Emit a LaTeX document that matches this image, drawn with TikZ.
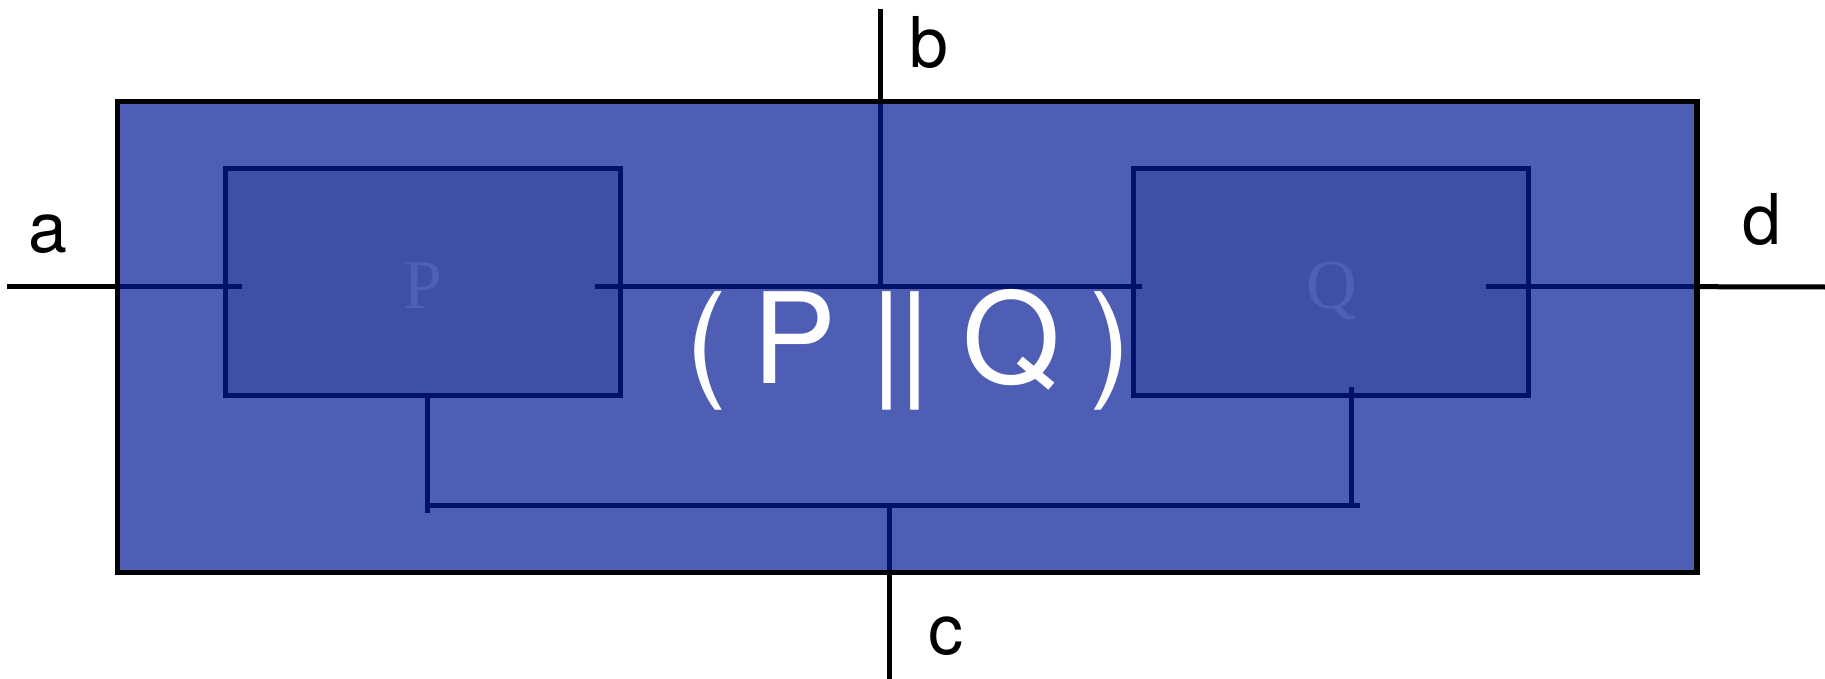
\documentclass[tikz,border=0pt]{standalone}
\usepackage{fontspec}
\newfontfamily\sansfam{TeX Gyre Heros}
\newfontfamily\seriffam{Liberation Serif}
\definecolor{outerfill}{RGB}{78,94,180}
\definecolor{innerfill}{RGB}{62,80,165}
\definecolor{navy}{RGB}{0,18,104}
\definecolor{faintc}{RGB}{78,95,182}
\begin{document}
\begin{tikzpicture}[x=1pt,y=-1pt,
  outerbox/.style={fill=outerfill, minimum width=1579.3pt, minimum height=471.2pt, inner sep=0pt, outer sep=0pt},
  subbox/.style={draw=navy, line width=5pt, fill=innerfill, minimum width=395pt, minimum height=226pt, inner sep=0pt, outer sep=0pt},
  wirein/.style={draw=navy, line width=5pt},
  wireout/.style={draw=black, line width=5pt},
  lbl/.style={font=\sansfam\fontsize{70}{70}\selectfont, anchor=base, inner sep=0pt},
  faint/.style={font=\seriffam\fontsize{70}{70}\selectfont, text=faintc, anchor=base, inner sep=0pt},
  bigtext/.style={font=\sansfam\fontsize{126}{126}\selectfont, text=white, anchor=base west, inner sep=0pt}
]
\useasboundingbox (0,0) rectangle (1825,679);
% outer system box (fill)
\node[outerbox] (sys) at (907.35,336.9) {};
% sub-boxes
\node[subbox] (P) at (423.2,282) {};
\node[subbox] (Q) at (1331.3,282) {};
\node[faint] (Ptxt) at ([yshift=-26pt]P.center) {P};
\node[faint] (Qtxt) at ([yshift=-26pt]Q.center) {Q};
% coordinates
\coordinate (aEnd) at (7,286.7);
\coordinate (aEdge) at (117.7,286.7);
\coordinate (aIn) at (242,286.7);
\coordinate (pOut) at (595,286.7);
\coordinate (qIn) at (1141.7,286.7);
\coordinate (bJoin) at (880.5,286.7);
\coordinate (bEdge) at (880.5,101.3);
\coordinate (bEnd) at (880.5,9.3);
\coordinate (qOut) at (1486,286.7);
\coordinate (dEdge) at (1697,286.7);
\coordinate (dEnd) at (1825,287);
\coordinate (pBot) at (427.3,395);
\coordinate (pBelow) at (427.3,513);
\coordinate (busL) at (427.3,505);
\coordinate (busR) at (1360,505);
\coordinate (qTop) at (1351.7,387.3);
\coordinate (qBus) at (1351.7,505);
\coordinate (cJoin) at (889.5,505);
\coordinate (cEdge) at (889.5,572.5);
\coordinate (cEnd) at (889.5,679);
% wires
\draw[wireout] (aEnd) -- (aEdge);
\draw[wirein] (aEdge) -- (aIn);
\draw[wirein] (pOut) -- (qIn);
\draw[wireout] (bEnd) -- (bEdge);
\draw[wirein] (bEdge) -- (bJoin);
\draw[wirein] (qOut) -- (dEdge);
\draw[wireout] (dEdge) -- (dEnd);
\draw[wirein] (pBot) -- (pBelow);
\draw[wirein] (busL) -- (busR);
\draw[wirein] (qTop) -- (qBus);
\draw[wirein] (cJoin) -- (cEdge);
\draw[wireout] (cEdge) -- (cEnd);
% outer border on top
\draw[black, line width=5.5pt] (sys.north west) rectangle (sys.south east);
% central text
\node[bigtext] (pq) at (685.2,383.3) {(\hspace{25.3pt}P\hspace{33.7pt}|\hspace{-4.8pt}|\hspace{31.5pt}Q\hspace{28.9pt})};
% port labels
\node[lbl] (la) at (48,252.5) {a};
\node[lbl] (lb) at (929.4,67.3) {b};
\node[lbl] (lc) at (946,654) {c};
\node[lbl] (ld) at (1762,244.5) {d};
\end{tikzpicture}
\end{document}
